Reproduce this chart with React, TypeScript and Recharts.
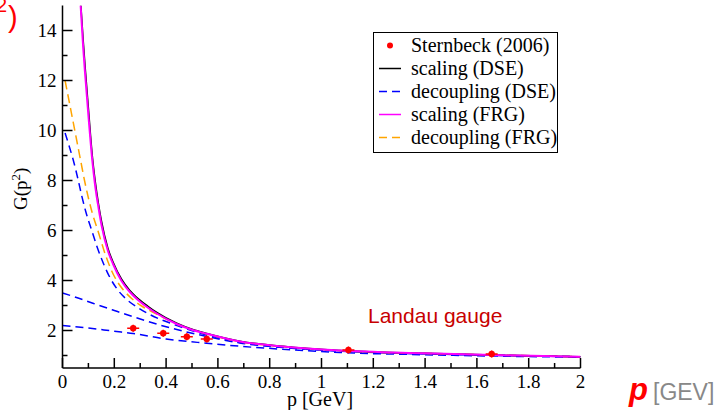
import React from 'react';
import { ComposedChart, Line, Scatter, XAxis, YAxis, Legend } from 'recharts';

// ---- data ----
const STERNBECK_P = [0.273, 0.389, 0.48, 0.557, 1.104, 1.657];
const STERNBECK_G = [2.09, 1.89, 1.75, 1.66, 1.22, 1.06];

const SCALING_DSE_P = [0.071, 0.08, 0.087, 0.1, 0.115, 0.126, 0.14, 0.151, 0.175, 0.196, 0.228, 0.26, 0.286, 0.33, 0.364, 0.441, 0.5, 0.557, 0.685, 0.85, 1.07, 1.4, 1.7, 2.0];
const SCALING_DSE_G = [15, 13.6, 12.6, 10.9, 9.0, 8.0, 7.0, 6.35, 5.3, 4.72, 4.05, 3.6, 3.33, 2.97, 2.72, 2.29, 2.05, 1.88, 1.57, 1.37, 1.2, 1.09, 1.01, 0.95];

const SCALING_FRG_P = [0.07, 0.08, 0.087, 0.1, 0.115, 0.126, 0.14, 0.151, 0.175, 0.196, 0.228, 0.26, 0.286, 0.33, 0.364, 0.441, 0.5, 0.557, 0.685, 0.85, 1.07, 1.4, 1.7, 2.0];
const SCALING_FRG_G = [15, 13.3, 12.3, 10.6, 8.8, 7.8, 6.85, 6.2, 5.2, 4.64, 3.98, 3.54, 3.27, 2.91, 2.68, 2.26, 2.03, 1.87, 1.56, 1.36, 1.2, 1.09, 1.01, 0.95];

const DECOUPLING_FRG_P = [0.01, 0.025, 0.04, 0.055, 0.07, 0.085, 0.1, 0.115, 0.138, 0.165, 0.19, 0.209, 0.235, 0.267, 0.31, 0.357, 0.45, 0.557, 0.685, 0.85, 1.1, 1.5, 2.0];
const DECOUPLING_FRG_G = [12.0, 11.2, 10.4, 9.6, 8.8, 8.0, 7.3, 6.7, 5.95, 5.05, 4.38, 4.0, 3.62, 3.28, 2.95, 2.69, 2.22, 1.86, 1.55, 1.36, 1.18, 1.06, 0.95];

const DECOUPLING_DSE_A_P = [0.01, 0.025, 0.042, 0.061, 0.074, 0.09, 0.113, 0.135, 0.158, 0.183, 0.215, 0.248, 0.29, 0.331, 0.428, 0.557, 0.685, 0.85, 1.1, 1.5, 2.0];
const DECOUPLING_DSE_A_G = [9.9, 9.4, 8.8, 8.0, 7.4, 6.75, 6.0, 5.3, 4.68, 4.12, 3.6, 3.24, 2.92, 2.67, 2.25, 1.82, 1.52, 1.33, 1.17, 1.05, 0.95];

const DECOUPLING_DSE_B_P = [0, 0.06, 0.12, 0.2, 0.273, 0.4, 0.557, 0.685, 0.85, 1.1, 1.5, 2.0];
const DECOUPLING_DSE_B_G = [3.5, 3.3, 3.08, 2.8, 2.55, 2.15, 1.76, 1.5, 1.32, 1.16, 1.04, 0.95];

const DECOUPLING_DSE_C_P = [0, 0.1, 0.2, 0.273, 0.4, 0.557, 0.685, 0.85, 1.07, 1.4, 2.0];
const DECOUPLING_DSE_C_G = [2.2, 2.1, 1.97, 1.88, 1.66, 1.49, 1.37, 1.25, 1.12, 1.03, 0.93];

const X_TICKS = [0, 0.1, 0.2, 0.3, 0.4, 0.5, 0.6, 0.7, 0.8, 0.9, 1, 1.1, 1.2, 1.3, 1.4, 1.5, 1.6, 1.7, 1.8, 1.9, 2];
const Y_TICKS = [1, 2, 3, 4, 5, 6, 7, 8, 9, 10, 11, 12, 13, 14];

const LEGEND_ITEMS = [
  { name: 'Sternbeck (2006)', kind: 'dot', color: '#ff0000' },
  { name: 'scaling (DSE)', kind: 'line', color: '#000000' },
  { name: 'decoupling (DSE)', kind: 'dash', color: '#0000ff' },
  { name: 'scaling (FRG)', kind: 'line', color: '#ff00ff' },
  { name: 'decoupling (FRG)', kind: 'dash', color: '#ffa500' },
];

const zip = (ps: number[], gs: number[]) => ps.map((p, i) => ({ p, g: gs[i] }));

const SERIF = "'Liberation Serif', 'Times New Roman', serif";
const SANS = "'Liberation Sans', Arial, sans-serif";

const isMajorX = (v: number) => Math.round(v * 10) % 2 === 0;
const isMajorY = (v: number) => v % 2 === 0;

const BottomTick = (props: any) => {
  const { x, y, payload } = props;
  const major = isMajorX(payload.value);
  return (
    <g>
      <line x1={x} x2={x} y1={y} y2={y - (major ? 10 : 5)} stroke="#000" strokeWidth={1.5} />
      {major && (
        <text x={x} y={y + 20} textAnchor="middle" fontFamily={SERIF} fontSize={19} fill="#000">
          {String(payload.value)}
        </text>
      )}
    </g>
  );
};

const TopTick = (props: any) => {
  const { x, y, payload } = props;
  const major = isMajorX(payload.value);
  return <line x1={x} x2={x} y1={y} y2={y + (major ? 10 : 5)} stroke="#000" strokeWidth={1.5} />;
};

const LeftTick = (props: any) => {
  const { x, y, payload } = props;
  const major = isMajorY(payload.value);
  return (
    <g>
      <line x1={x} x2={x + (major ? 10 : 5)} y1={y} y2={y} stroke="#000" strokeWidth={1.5} />
      {major && (
        <text x={x - 6} y={y + 6.5} textAnchor="end" fontFamily={SERIF} fontSize={19} fill="#000">
          {String(payload.value)}
        </text>
      )}
    </g>
  );
};

const RightTick = (props: any) => {
  const { x, y, payload } = props;
  const major = isMajorY(payload.value);
  return <line x1={x} x2={x - (major ? 10 : 5)} y1={y} y2={y} stroke="#000" strokeWidth={1.5} />;
};

const PointShape = (props: any) => {
  const { cx, cy } = props;
  return (
    <g>
      <line x1={cx - 6} x2={cx + 6} y1={cy} y2={cy} stroke="#ff0000" strokeWidth={1.5} />
      <line x1={cx} x2={cx} y1={cy - 3.5} y2={cy + 3.5} stroke="#ff0000" strokeWidth={1.5} />
      <circle cx={cx} cy={cy} r={3.2} fill="#ff0000" />
    </g>
  );
};

const LegendBox = () => (
  <div
    style={{
      border: '1.5px solid #000',
      background: '#fff',
      width: 185,
      boxSizing: 'border-box',
      padding: '1px 0 3px 0',
      fontFamily: SERIF,
      fontSize: 20,
      color: '#000',
    }}
  >
    {LEGEND_ITEMS.map((it) => (
      <div key={it.name} style={{ display: 'flex', alignItems: 'center', height: 23, lineHeight: '23px' }}>
        <svg width={37} height={23} style={{ flex: 'none' }}>
          {it.kind === 'dot' && <circle cx={16} cy={11.5} r={3} fill={it.color} />}
          {it.kind === 'line' && <line x1={5} x2={27} y1={11.5} y2={11.5} stroke={it.color} strokeWidth={1.5} />}
          {it.kind === 'dash' && (
            <line x1={5} x2={27} y1={11.5} y2={11.5} stroke={it.color} strokeWidth={1.5} strokeDasharray="8 5" />
          )}
        </svg>
        <span style={{ whiteSpace: 'nowrap' }}>{it.name}</span>
      </div>
    ))}
  </div>
);

export default function App() {
  const lineCommon = { dataKey: 'g', dot: false, isAnimationActive: false, type: 'monotone' as const, legendType: 'none' as const };
  return (
    <div style={{ position: 'absolute', left: 0, top: 0, width: 718, height: 410, background: '#fff' }}>
      <ComposedChart width={718} height={410} margin={{ top: 5.5, right: 137.5, bottom: 12, left: 22.5 }}>
        <XAxis
          xAxisId="bottom"
          type="number"
          dataKey="p"
          domain={[0, 2]}
          ticks={X_TICKS}
          interval={0}
          orientation="bottom"
          height={30}
          tickSize={0}
          tickMargin={0}
          tickLine={false}
          axisLine={{ stroke: '#000', strokeWidth: 1.5 }}
          tick={<BottomTick />}
          allowDataOverflow
        />
        <XAxis
          xAxisId="top"
          type="number"
          dataKey="p"
          domain={[0, 2]}
          ticks={X_TICKS}
          interval={0}
          orientation="top"
          height={0}
          tickSize={0}
          tickMargin={0}
          tickLine={false}
          axisLine={{ stroke: '#000', strokeWidth: 1.5 }}
          tick={<TopTick />}
          allowDataOverflow
        />
        <YAxis
          yAxisId="left"
          type="number"
          domain={[0.5, 15]}
          ticks={Y_TICKS}
          interval={0}
          orientation="left"
          width={40}
          tickSize={0}
          tickMargin={0}
          tickLine={false}
          axisLine={{ stroke: '#000', strokeWidth: 1.5 }}
          tick={<LeftTick />}
          allowDataOverflow
        />
        <YAxis
          yAxisId="right"
          type="number"
          domain={[0.5, 15]}
          ticks={Y_TICKS}
          interval={0}
          orientation="right"
          width={0}
          tickSize={0}
          tickMargin={0}
          tickLine={false}
          axisLine={{ stroke: '#000', strokeWidth: 1.5 }}
          tick={<RightTick />}
          allowDataOverflow
        />
        <Line {...lineCommon} xAxisId="bottom" yAxisId="left" data={zip(DECOUPLING_DSE_C_P, DECOUPLING_DSE_C_G)} stroke="#0000ff" strokeWidth={1.5} strokeDasharray="8 5" />
        <Line {...lineCommon} xAxisId="bottom" yAxisId="left" data={zip(DECOUPLING_DSE_B_P, DECOUPLING_DSE_B_G)} stroke="#0000ff" strokeWidth={1.5} strokeDasharray="8 5" />
        <Line {...lineCommon} xAxisId="bottom" yAxisId="left" data={zip(DECOUPLING_DSE_A_P, DECOUPLING_DSE_A_G)} stroke="#0000ff" strokeWidth={1.5} strokeDasharray="8 5" />
        <Line {...lineCommon} xAxisId="bottom" yAxisId="left" data={zip(DECOUPLING_FRG_P, DECOUPLING_FRG_G)} stroke="#ffa500" strokeWidth={1.5} strokeDasharray="9 5" />
        <Line {...lineCommon} xAxisId="bottom" yAxisId="left" data={zip(SCALING_DSE_P, SCALING_DSE_G)} stroke="#000000" strokeWidth={1.5} />
        <Line {...lineCommon} xAxisId="bottom" yAxisId="left" data={zip(SCALING_FRG_P, SCALING_FRG_G)} stroke="#ff00ff" strokeWidth={2} />
        <Scatter
          xAxisId="bottom"
          yAxisId="left"
          data={zip(STERNBECK_P, STERNBECK_G)}
          dataKey="g"
          shape={<PointShape />}
          isAnimationActive={false}
          legendType="none"
        />
        <Legend
          layout="vertical"
          align="center"
          verticalAlign="middle"
          wrapperStyle={{ left: 373, top: 31.5, width: 185, height: 122 }}
          content={() => <LegendBox />}
        />
      </ComposedChart>
      <svg width={718} height={410} style={{ position: 'absolute', left: 0, top: 0, pointerEvents: 'none' }}>
        <text x={-4} y={12} fontFamily={SANS} fontSize={20} fill="#ff0000">2</text>
        <text x={8} y={27} fontFamily={SANS} fontSize={29} fill="#ff0000">)</text>
        <text transform="rotate(-90, 27, 210)" x={27} y={210} fontFamily={SERIF} fontSize={19} fill="#000">
          G(p<tspan dy={-7} fontSize={13}>2</tspan><tspan dy={7}>)</tspan>
        </text>
        <text x={320} y={406} textAnchor="middle" fontFamily={SERIF} fontSize={20} fill="#000">p [GeV]</text>
        <text x={368} y={323} fontFamily={SANS} fontSize={21} fill="#c80000">Landau gauge</text>
        <text x={629} y={400} fontFamily={SANS} fontSize={31} fontWeight="bold" fontStyle="italic" fill="#ff0000">p</text>
        <text x={653} y={400} fontFamily={SANS} fontSize={23} fill="#888888">[GEV]</text>
      </svg>
    </div>
  );
}
